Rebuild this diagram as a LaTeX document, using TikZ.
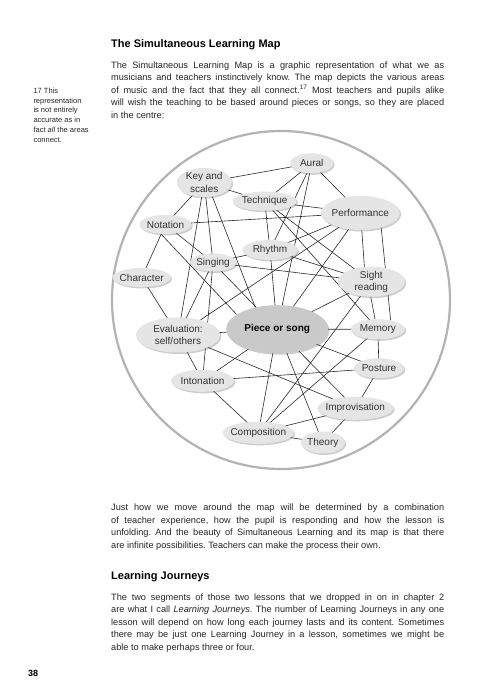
\documentclass[tikz,border=0pt]{standalone}
\usepackage{fontspec}
\setmainfont{Liberation Sans}
\frenchspacing
\usetikzlibrary{shapes.geometric,shadows}
\pgfdeclarelayer{bg}
\pgfsetlayers{bg,main}
\definecolor{bubfill}{HTML}{E5E5E5}
\definecolor{piecefill}{HTML}{C9C9C9}
\definecolor{ringgray}{HTML}{B3B3B3}
\definecolor{inkgray}{HTML}{2A2A2A}
\definecolor{bodyink}{HTML}{262626}
\definecolor{labelink}{HTML}{333333}
\newcommand{\jline}[3]{\node[txtline] (#1) at (111,#2) {\makebox[333pt][s]{#3}};}
\newcommand{\lastjline}[3]{\node[txtline] (#1) at (111,#2) {#3};}
\newcommand{\fnline}[3]{\node[fnline] (#1) at (33.3,#2) {#3};}
\begin{document}
\begin{tikzpicture}[x=1pt,y=-1pt,
  txtline/.style={anchor=base west, inner sep=0pt, text=bodyink, font=\fontsize{9.2}{12.5}\selectfont},
  fnline/.style={anchor=base west, inner sep=0pt, text=bodyink, font=\fontsize{7.5}{9.75}\selectfont},
  heading/.style={anchor=base west, inner sep=0pt, text=black, font=\bfseries\fontsize{11}{13}\selectfont},
  bub/.style={ellipse, fill=bubfill, inner xsep=-40pt, inner ysep=-20pt, align=center,
    text=labelink, font=\fontsize{10}{12.5}\selectfont,
    drop shadow={shadow xshift=1.3pt, shadow yshift=-1.5pt, opacity=0.28, fill=black!70}},
  link/.style={draw=inkgray, line width=0.6pt}
]
\useasboundingbox (0,0) rectangle (489,700);
\begin{pgfonlayer}{bg}
\fill[white] (0,0) rectangle (489,700);
\end{pgfonlayer}

% ---- text above
\node[heading] (h1) at (111,47.5) {The Simultaneous Learning Map};
\jline{p1a}{68.5}{The Simultaneous Learning Map is a graphic representation of what we as}
\jline{p1b}{81}{musicians and teachers instinctively know. The map depicts the various areas}
\jline{p1c}{93.5}{of music and the fact that they all connect.\textsuperscript{17} Most teachers and pupils alike}
\jline{p1d}{106}{will wish the teaching to be based around pieces or songs, so they are placed}
\lastjline{p1e}{118.5}{in the centre:}

\fnline{f1}{93.5}{17 This}
\fnline{f2}{103.3}{representation}
\fnline{f3}{113}{is not entirely}
\fnline{f4}{122.7}{accurate as in}
\fnline{f5}{132.5}{fact \textit{all} the areas}
\fnline{f6}{142.2}{connect.}

% ---- the map
\node[bub, minimum width=43pt, minimum height=20pt] (aural) at (311.7,163.3) {Aural};
\node[bub, minimum width=55pt, minimum height=29pt] (key) at (204.2,182.5) {Key and\\scales};
\node[bub, minimum width=64pt, minimum height=19pt] (tech) at (264.7,201.2) {Technique};
\node[bub, minimum width=79pt, minimum height=34pt] (perf) at (360.3,213) {Performance};
\node[bub, minimum width=52pt, minimum height=19pt] (nota) at (165.5,224.5) {Notation};
\node[bub, minimum width=55pt, minimum height=20pt] (rhy) at (270,250) {Rhythm};
\node[bub, minimum width=46pt, minimum height=18pt] (sing) at (213,262.5) {Singing};
\node[bub, minimum width=58pt, minimum height=19pt] (char) at (141.7,277.5) {Character};
\node[bub, minimum width=67pt, minimum height=30pt] (sight) at (371.3,281.7) {Sight\\reading};
\node[bub, fill=piecefill, text=black, minimum width=102pt, minimum height=48pt,
  font=\bfseries\fontsize{10}{12.5}\selectfont] (piece) at (277.2,329.2) {Piece or song};
\node[bub, minimum width=84pt, minimum height=35pt] (eval) at (178,335) {Evaluation:\\self/others};
\node[bub, minimum width=54pt, minimum height=20pt] (mem) at (377.8,329.3) {Memory};
\node[bub, minimum width=50pt, minimum height=20pt] (post) at (379,368.3) {Posture};
\node[bub, minimum width=63pt, minimum height=22pt] (inton) at (202.5,380.8) {Intonation};
\node[bub, minimum width=76pt, minimum height=23pt] (impro) at (355.3,408.3) {Improvisation};
\node[bub, minimum width=71pt, minimum height=22pt] (comp) at (258.3,432.8) {Composition};
\node[bub, minimum width=44pt, minimum height=22pt] (theory) at (322.8,442.5) {Theory};

\begin{pgfonlayer}{bg}
\draw[draw=ringgray, line width=2.2pt] (281,300) circle[radius=169pt];
\foreach \a/\b in {aural/key, aural/tech, aural/rhy, aural/piece, aural/perf,
  key/tech, key/nota, key/eval, key/sing,
  tech/perf, tech/rhy, tech/sight, tech/mem,
  nota/char, nota/sing, nota/perf,
  char/eval,
  sing/rhy, sing/sight, sing/eval, sing/inton, sing/piece,
  rhy/perf, rhy/sight, rhy/piece,
  perf/eval, perf/piece,
  sight/piece, sight/comp,
  piece/mem, piece/eval, piece/post, piece/impro, piece/theory, piece/comp, piece/inton,
  eval/inton, eval/impro,
  mem/post, mem/comp,
  post/inton, post/impro,
  inton/comp,
  impro/comp, impro/theory,
  comp/theory}
  \draw[link] (\a.center) -- (\b.center);
\draw[link] (key.-60) -- (piece.135);
\draw[link] (nota.-115) -- (piece.160);
\draw[link] (perf.-85) -- (sight.115);
\draw[link] (perf.-35) -- (mem.35);
\draw[link] (sight.-92) -- (mem.105);
\end{pgfonlayer}

% ---- text below
\jline{p2a}{510.5}{Just how we move around the map will be determined by a combination}
\jline{p2b}{523}{of teacher experience, how the pupil is responding and how the lesson is}
\jline{p2c}{535.5}{unfolding. And the beauty of Simultaneous Learning and its map is that there}
\lastjline{p2d}{548}{are infinite possibilities. Teachers can make the process their own.}

\node[heading] (h2) at (111,579.5) {Learning Journeys};
\jline{p3a}{600}{The two segments of those two lessons that we dropped in on in chapter 2}
\jline{p3b}{612.5}{are what I call \textit{Learning Journeys}. The number of Learning Journeys in any one}
\jline{p3c}{625}{lesson will depend on how long each journey lasts and its content. Sometimes}
\jline{p3d}{637.5}{there may be just one Learning Journey in a lesson, sometimes we might be}
\lastjline{p3e}{650}{able to make perhaps three or four.}

\node[anchor=base west, inner sep=0pt, font=\bfseries\fontsize{9}{11}\selectfont] (pg) at (28,676) {38};
\end{tikzpicture}
\end{document}
